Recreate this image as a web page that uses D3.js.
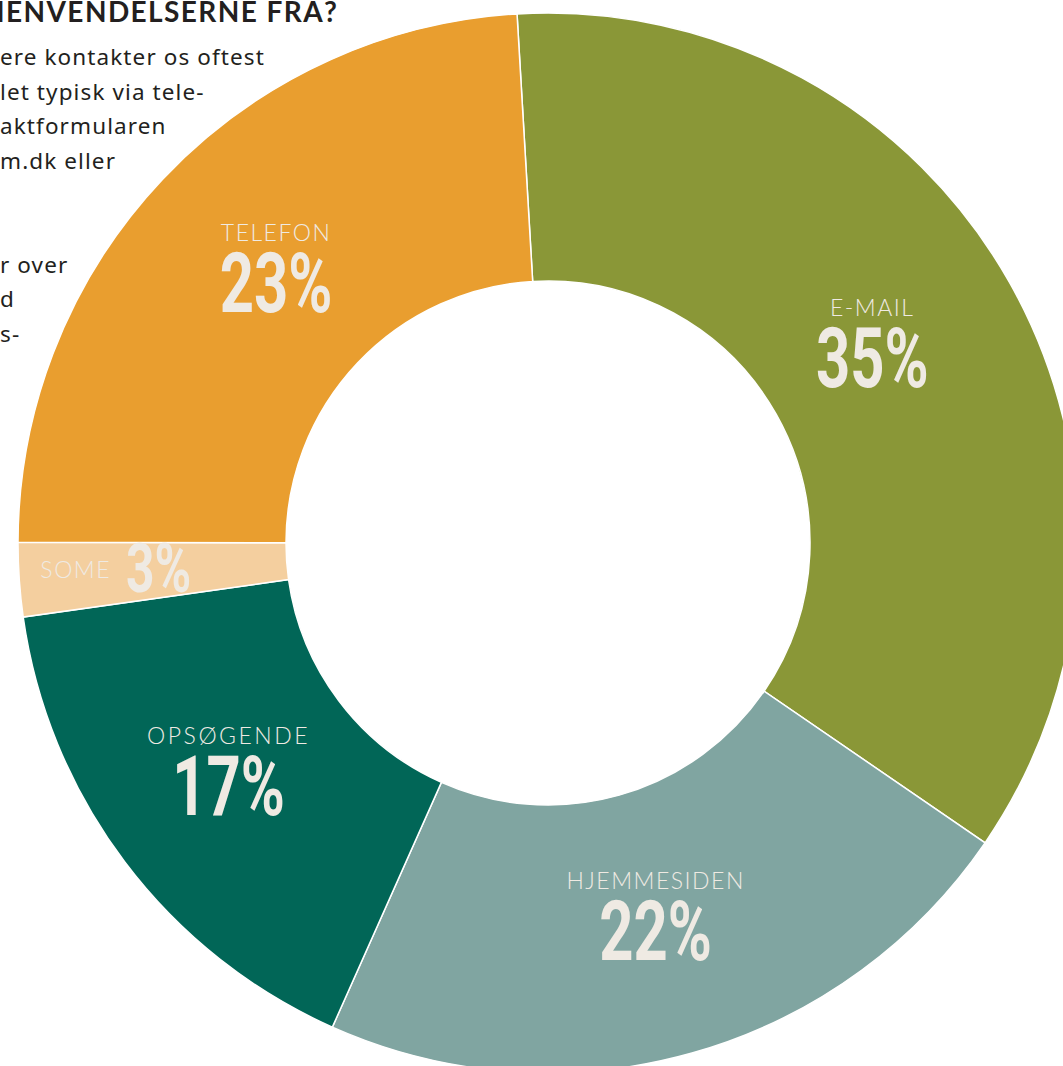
<!DOCTYPE html>
<html>
<head>
<meta charset="utf-8">
<script src="https://cdn.jsdelivr.net/npm/d3@7"></script>
<style>
  html, body { margin: 0; padding: 0; background: #fff; overflow: hidden; }
  svg { display: block; }
</style>
</head>
<body>
<svg width="1063" height="1066"></svg>
<script>
// data
const categories = ["E-MAIL", "HJEMMESIDEN", "OPSØGENDE", "SOME", "TELEFON"]
const shares = [35.5, 22.1, 16.1, 2.25, 24.05]
const pctLabels = ["35%", "22%", "17%", "3%", "23%"]
const colors = ["#8a9737", "#80a5a1", "#016657", "#f4cf9f", "#e99e2f"]

const heading = "HENVENDELSERNE FRA?"
const bodyLines = ["ere kontakter os oftest", "let typisk via tele-", "aktformularen", "m.dk eller", "", "", "r over", "d", "s-"]

// labels were placed by hand in the original, small nudges off the centroid
const labelNudge = [[-11, -12], [3, 1], [-12, -5], [0, 0], [8, -12]]

const cx = 548,
  cy = 543,
  outerR = 530,
  innerR = 262,
  labelR = 385,
  start = -3.35 * Math.PI / 180

const svg = d3.select("svg")

// text sits behind the donut
const textG = svg.append("g")
  .attr("fill", "#231f20")

textG.append("text")
  .attr("x", -17)
  .attr("y", 22)
  .style("font-family", "Lato, 'Open Sans', sans-serif")
  .attr("font-size", 28)
  .attr("font-weight", 700)
  .attr("textLength", 354)
  .attr("lengthAdjust", "spacing")
  .text(heading)

textG.selectAll(".body")
  .data(bodyLines)
  .enter()
  .append("text")
  .attr("class", "body")
  .attr("x", 0)
  .attr("y", (d, i) => 65 + i * 34.6)
  .style("font-family", "'Noto Sans', sans-serif")
  .attr("font-size", 22.5)
  .attr("letter-spacing", 1.1)
  .text(d => d)

const pie = d3.pie()
  .sort(null)
  .value(d => d)
  .startAngle(start)
  .endAngle(start + 2 * Math.PI)

const arc = d3.arc().innerRadius(innerR).outerRadius(outerR)
const labelArc = d3.arc().innerRadius(labelR).outerRadius(labelR)
const smallArc = d3.arc().innerRadius(437).outerRadius(437)

const arcs = pie(shares)

const donut = svg.append("g")
  .attr("transform", `translate(${cx},${cy})`)

donut.selectAll("path")
  .data(arcs)
  .enter()
  .append("path")
  .attr("d", arc)
  .attr("fill", (d, i) => colors[i])
  .attr("stroke", "#fff")
  .attr("stroke-width", 1.5)

const labels = donut.selectAll(".label")
  .data(arcs)
  .enter()
  .append("g")
  .attr("class", "label")
  .attr("fill", "#efeae3")

labels.each(function (d, i) {
  const g = d3.select(this)
  const small = shares[i] < 5
  let [x, y] = small ? smallArc.centroid(d) : labelArc.centroid(d)
  x += labelNudge[i][0]
  y += labelNudge[i][1]
  g.append("text")
    .attr("x", small ? x - 1 : x)
    .attr("y", small ? y + 5 : y - 26)
    .attr("text-anchor", small ? "end" : "middle")
    .style("font-family", "Lato, 'Open Sans', sans-serif")
    .attr("font-weight", 300)
    .attr("font-size", 23)
    .attr("letter-spacing", i === 2 ? 2.5 : 1.5)
    .text(categories[i])
  g.append("text")
    .attr("transform", small
      ? `translate(${x + 14},${y + 19}) scale(0.72,1)`
      : `translate(${x},${y + 45}) scale(0.72,1)`)
    .attr("text-anchor", small ? "start" : "middle")
    .style("font-family", "Roboto, sans-serif")
    .attr("font-weight", 700)
    .attr("font-size", small ? 69 : 83)
    .text(pctLabels[i])
})
</script>
</body>
</html>
